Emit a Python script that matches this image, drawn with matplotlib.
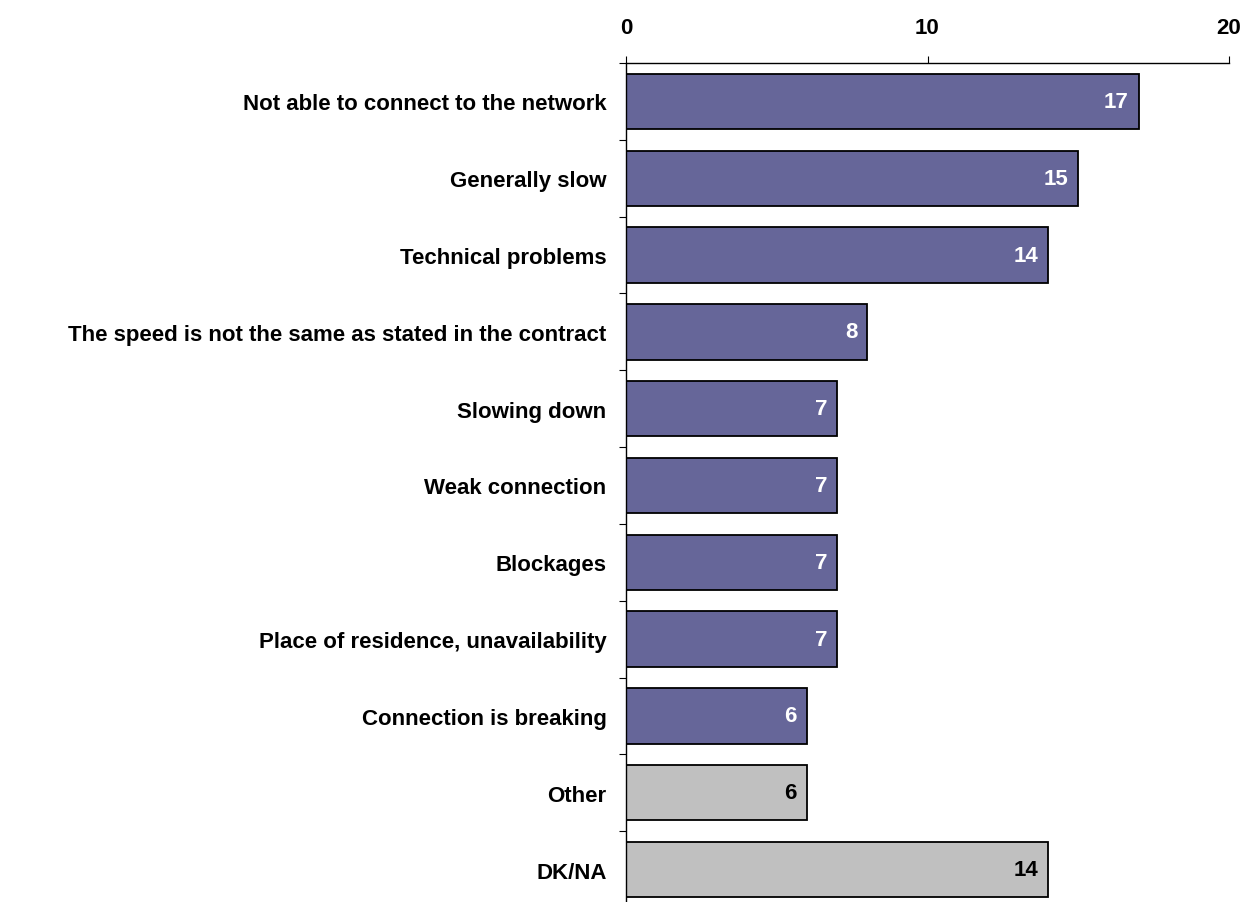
import numpy as np
import matplotlib.pyplot as plt
from matplotlib.ticker import FixedLocator

plt.rcParams["font.family"] = ["Liberation Sans", "DejaVu Sans"]
plt.rcParams["font.weight"] = "bold"

categories = [
    "Not able to connect to the network",
    "Generally slow",
    "Technical problems",
    "The speed is not the same as stated in the contract",
    "Slowing down",
    "Weak connection",
    "Blockages",
    "Place of residence, unavailability",
    "Connection is breaking",
    "Other",
    "DK/NA",
]
values = [17, 15, 14, 8, 7, 7, 7, 7, 6, 6, 14]
is_other = [False] * 9 + [True, True]

PURPLE = "#666699"
GREY = "#C0C0C0"
FS = 16

fig = plt.figure(figsize=(12.45, 9.03), dpi=100)
ax = fig.add_axes([626 / 1245, -0.0066, 603 / 1245, 0.9357])

y = np.arange(len(categories))
colors = [GREY if o else PURPLE for o in is_other]
bars = ax.barh(y, values, height=0.72, color=colors, edgecolor="black",
               linewidth=1.3, zorder=2)

# value labels sit inside the bar, against its right end
for bar, val, o in zip(bars, values, is_other):
    ax.text(bar.get_width() - 0.33, bar.get_y() + bar.get_height() / 2,
            str(val), ha="right", va="center", fontsize=FS, fontweight="bold",
            color="black" if o else "white", zorder=3)

ax.set_xlim(0, 20)
ax.set_ylim(len(categories) - 0.5, -0.5)

ax.xaxis.tick_top()
ax.set_xticks([0, 10, 20])
ax.tick_params(axis="x", direction="out", length=5, width=0.8, pad=13,
               labelsize=FS)

ax.set_yticks(y)
ax.set_yticklabels(categories, fontsize=FS, fontweight="bold")
ax.tick_params(axis="y", which="major", length=0, pad=14)
ax.yaxis.set_minor_locator(FixedLocator(np.arange(-0.5, len(categories), 1.0)))
ax.tick_params(axis="y", which="minor", direction="out", length=5, width=0.8)

for side in ("right", "bottom"):
    ax.spines[side].set_visible(False)
for side in ("top", "left"):
    ax.spines[side].set_linewidth(1.0)

fig.savefig("out.png", dpi=100)
